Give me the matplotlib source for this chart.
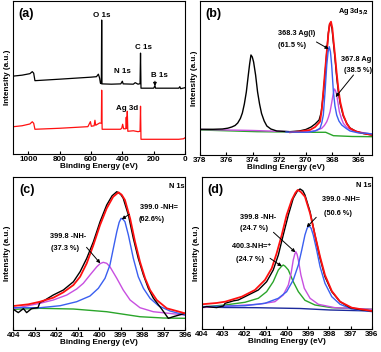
import matplotlib
matplotlib.use('Agg')
import matplotlib.pyplot as plt

plt.rcParams['font.family'] = ['Liberation Sans', 'DejaVu Sans']
plt.rcParams['font.weight'] = 'bold'
plt.rcParams['axes.labelweight'] = 'bold'
plt.rcParams['mathtext.default'] = 'bf'

BLUE = '#3a5ff0'
MAG = '#c84fe0'
GREEN = '#2aa52a'
NAVY = '#1c2a9c'
RED = '#ff1010'

# (a) survey spectra
a_ev_black = [1100, 1040, 990, 975, 966, 958, 800, 600, 565, 553, 545, 540, 534, 532, 530, 470, 410, 400, 395, 330,
              318, 300, 287, 284, 281, 230, 200, 192, 188, 100, 40, 33, 28, 0]
a_int_black = [78, 79, 80.5, 82.5, 81, 73.5, 75, 77, 77.5, 80, 76, 71, 70.5, 134, 70.3, 70, 70.3, 73, 70.3, 70,
               71.5, 70, 70.5, 101, 66, 66, 66, 68.5, 66, 66, 66, 67.5, 65.5, 66.5]
a_ev_red = [1100, 1040, 990, 975, 966, 958, 800, 620, 604, 598, 580, 575, 570, 545, 534, 532, 529, 412, 404, 398,
            392, 378, 375, 372, 368.5, 365, 330, 300, 287, 284, 281, 150, 40, 10, 0]
a_int_red = [27.5, 28.5, 30.3, 32.5, 31, 25, 26, 27.6, 32.6, 28, 28.5, 34, 29, 31.3, 31, 64, 25, 25, 26, 30,
             25.5, 25.5, 37, 26, 43, 23, 23.5, 22.6, 23, 48, 15, 15, 15, 15.5, 16.5]

# (b) Ag 3d
b_ev_black = [378, 377, 376.3, 375.9, 375.6, 375.35, 375.15, 374.95, 374.8, 374.65, 374.5, 374.35, 374.25, 374.15,
              374.05, 373.95, 373.8, 373.65, 373.5, 373.35, 373.15, 372.95, 372.65, 372.2, 371.2, 370.5, 370,
              369.6, 369.3, 369.0, 368.85, 368.7, 368.55, 368.42, 368.3, 368.2, 368.12, 368.02, 367.9, 367.8,
              367.67, 367.55, 367.4, 367.17, 366.9, 366.66, 366.2, 365.66, 365]
b_int_black = [25.7, 25.7, 26, 26.8, 28, 29.5, 32, 36.5, 42, 51, 63, 80, 91, 100, 98, 93, 80, 63, 51, 41.5, 34,
               29, 26, 24, 23.3, 24, 25.5, 28, 31, 35, 42, 58, 80, 103, 122, 131, 131.7, 126, 110, 97, 78, 64,
               51, 39, 31.5, 27, 23.5, 21.5, 20]
b_ev_red = [371.2, 370.5, 369.69, 369.3, 368.93, 368.8, 368.68, 368.55, 368.42, 368.3, 368.2, 368.1, 368.0, 367.9,
            367.8, 367.68, 367.55, 367.4, 367.17, 366.9, 366.66, 366.2, 365.66, 365]
b_int_red = [22.7, 23.5, 25, 28, 33.3, 45, 63.3, 84, 103.3, 121, 131, 133.3, 127, 113, 100, 83, 66.7, 53, 40, 31,
             26.7, 23.5, 21.7, 20]
b_ev_blue = [371.5, 369.9, 369.3, 368.93, 368.8, 368.68, 368.55, 368.42, 368.32, 368.23, 368.14, 368.05, 367.92,
             367.8, 367.67, 367.5, 367.29, 366.95, 366.66, 366, 365.4, 365]
b_int_blue = [23, 22.7, 24, 26.7, 32, 40, 63.3, 90, 103, 108.3, 103, 90, 63.3, 49, 40, 34, 30, 26.5, 24, 22,
              21.7, 21]
b_ev_mag = [378, 374, 371.2, 369.69, 369.2, 368.8, 368.6, 368.42, 368.3, 368.17, 368.05, 367.95, 367.84, 367.75,
            367.67, 367.57, 367.47, 367.3, 367.17, 366.9, 366.55, 366, 365.4, 365]
b_int_mag = [25.5, 24.5, 23.3, 23.3, 24.5, 26.7, 29.5, 33.3, 37.5, 43.3, 52, 60, 66, 64, 60, 52, 43.3, 36, 31.7,
             27.5, 25, 23, 21.7, 21]
b_ev_green = [378, 373.7, 369.5, 368.5, 367.92, 366.5, 365]
b_int_green = [25, 23.3, 22.7, 22.7, 19.3, 18.5, 18.3]

# (c) N 1s
c_ev_black = [404, 403.77, 403.53, 403.38, 403.15, 402.85, 402.76, 402.6, 402.14, 401.67, 401.2, 400.89, 400.58,
              400.27, 399.96, 399.65, 399.4, 399.18, 399.0, 398.88, 398.64, 398.41, 398.18, 397.94, 397.71,
              397.48, 397.09, 396.78, 396.55, 396]
c_int_black = [21, 17.7, 21.7, 17.7, 21.7, 22.7, 28, 29.3, 35.3, 40.3, 48.6, 58.6, 72, 88.6, 108.6, 125.3, 134.5,
               138.6, 136, 132, 115.3, 92, 72, 55.3, 42, 32.3, 21.3, 12, 13.6, 17]
c_ev_red = [404, 403.3, 402.76, 402.14, 401.67, 401.2, 400.89, 400.58, 400.27, 399.96, 399.65, 399.35, 399.1, 398.95,
            398.8, 398.56, 398.33, 398.1, 397.86, 397.63, 397.32, 396.85, 396]
c_int_red = [24.3, 26, 28.6, 32.6, 38, 45.3, 53.6, 67, 85.3, 105.3, 122, 133.5, 138, 135.5, 130.3, 112, 88.6,
             68.6, 52, 40.3, 30.3, 22, 17]
c_ev_blue = [404, 402.76, 401.82, 401.05, 400.43, 400.04, 399.73, 399.5, 399.34, 399.18, 399.07, 398.98, 398.89,
             398.8, 398.64, 398.41, 398.18, 397.94, 397.63, 397.24, 396.7, 396]
c_int_blue = [22.7, 22.6, 24.6, 28.6, 34.3, 42, 52, 65.3, 82, 98.6, 108, 112, 111, 108.6, 95.3, 72, 53.6, 42, 32,
              24.6, 19.3, 15.3]
c_ev_mag = [404, 402.76, 402.14, 401.51, 401.05, 400.74, 400.43, 400.11, 399.95, 399.81, 399.65, 399.5, 399.18,
            398.88, 398.56, 398.1, 397.48, 396]
c_int_mag = [21.7, 27, 30.3, 35.3, 41.3, 47, 55.3, 63.6, 66.8, 68, 67, 63.6, 52, 40.3, 30.3, 22.6, 18.6, 15.3]
c_ev_green = [404, 402.76, 401.2, 399.65, 398.1, 397, 396]
c_int_green = [21, 22, 21.3, 18.6, 13.6, 12.3, 12]

# (d) N 1s
d_ev_black = [404, 403.77, 403.3, 402.98, 402.9, 402.5, 402.28, 401.81, 401.34, 400.95, 400.64, 400.4, 400.17,
              399.93, 399.7, 399.5, 399.38, 399.25, 399.15, 398.91, 398.68, 398.44, 398.21, 397.89, 397.5,
              397.03, 396.48, 396]
d_int_black = [21.7, 22.7, 21.7, 23.3, 26, 28.5, 29.3, 34.3, 39.3, 47.6, 59.3, 74.3, 94.3, 114.3, 131, 138.5,
               140.3, 138.5, 134.3, 117.6, 94.3, 71, 52.6, 37.6, 27.6, 21.6, 19.3, 18.3]
d_ev_red = [404, 403.3, 402.9, 402.12, 401.5, 401.03, 400.71, 400.48, 400.24, 400.01, 399.77, 399.6, 399.49, 399.35,
            399.15, 398.91, 398.68, 398.44, 398.21, 397.89, 397.5, 396.95, 396]
d_int_red = [25, 26.3, 27.6, 32.6, 39.3, 49.3, 61, 76, 94.3, 114.3, 129.3, 136.5, 139.3, 137.5, 132.6, 116, 94.3,
             72.6, 54.3, 38.3, 27.6, 21.6, 18.3]
d_ev_blue = [404, 401.97, 401.03, 400.4, 400.01, 399.7, 399.46, 399.3, 399.15, 399.05, 398.96, 398.86, 398.76,
             398.6, 398.44, 398.21, 397.89, 397.5, 396.95, 396]
d_int_blue = [22.7, 23.6, 26, 31, 37.6, 49.3, 64.3, 79.3, 94.3, 101, 103.6, 101, 94.3, 79.3, 62.6, 46, 32.6, 25,
              20.3, 17.6]
d_ev_mag = [404, 401.34, 400.56, 400.17, 399.93, 399.8, 399.7, 399.63, 399.58, 399.52, 399.46, 399.34, 399.18,
            398.91, 398.52, 397.74, 396]
d_int_mag = [21.7, 25, 27.6, 34.3, 44.3, 56, 69.3, 75, 77.6, 75, 69.3, 54.3, 41, 31, 25, 21.6, 20]
d_ev_green = [404, 402.9, 401.97, 401.34, 400.95, 400.64, 400.4, 400.25, 400.17, 400.08, 399.93, 399.7, 399.46,
              399.15, 398.68, 397.89, 396]
d_int_green = [22.3, 24.3, 27, 31, 37.6, 47.6, 59.3, 63, 64.3, 63, 59.3, 47.6, 37.6, 29, 24.3, 21.6, 20]
d_ev_navy = [404, 402.9, 401.42, 399.38, 397.97, 396]
d_int_navy = [22.3, 21.8, 21.6, 20.8, 19.3, 18.3]

fig = plt.figure(figsize=(3.81, 3.52), dpi=100)
axa = fig.add_axes([0.0333, 0.5616, 0.4523, 0.4355])
axb = fig.add_axes([0.525, 0.5597, 0.4514, 0.4375])
axc = fig.add_axes([0.035, 0.0616, 0.4507, 0.4355])
axd = fig.add_axes([0.5294, 0.0645, 0.447, 0.4327])

lw = 1.0
axa.plot(a_ev_black, a_int_black, color='k', lw=0.9)
axa.plot(a_ev_red, a_int_red, color=RED, lw=0.9)
axa.set_xlim(1100, 0)
axa.set_ylim(0, 153)
axa.set_xticks([1000, 800, 600, 400, 200, 0])

axb.plot(b_ev_green, b_int_green, color=GREEN, lw=lw)
axb.plot(b_ev_mag, b_int_mag, color=MAG, lw=lw)
axb.plot(b_ev_black, b_int_black, color='k', lw=lw)
axb.plot(b_ev_red, b_int_red, color=RED, lw=1.3)
axb.plot(b_ev_blue, b_int_blue, color=BLUE, lw=lw)
axb.set_xlim(378, 365)
axb.set_ylim(0, 154)
axb.set_xticks([378, 376, 374, 372, 370, 368, 366])

axc.plot(c_ev_green, c_int_green, color=GREEN, lw=lw)
axc.plot(c_ev_mag, c_int_mag, color=MAG, lw=lw)
axc.plot(c_ev_blue, c_int_blue, color=BLUE, lw=lw)
axc.plot(c_ev_black, c_int_black, color='k', lw=lw)
axc.plot(c_ev_red, c_int_red, color=RED, lw=1.3)
axc.set_xlim(404, 396)
axc.set_ylim(0, 153.3)
axc.set_xticks(range(404, 395, -1))

axd.plot(d_ev_navy, d_int_navy, color=NAVY, lw=lw)
axd.plot(d_ev_green, d_int_green, color=GREEN, lw=lw)
axd.plot(d_ev_mag, d_int_mag, color=MAG, lw=lw)
axd.plot(d_ev_blue, d_int_blue, color=BLUE, lw=lw)
axd.plot(d_ev_black, d_int_black, color='k', lw=lw)
axd.plot(d_ev_red, d_int_red, color=RED, lw=1.3)
axd.set_xlim(404, 396)
axd.set_ylim(0, 152.3)
axd.set_xticks(range(404, 395, -1))

for ax, lab in zip([axa, axb, axc, axd], ['(a)', '(b)', '(c)', '(d)']):
    ax.set_yticks([])
    ax.tick_params(axis='x', direction='in', length=2, width=0.8, labelsize=5.8, pad=1.5)
    for s in ax.spines.values():
        s.set_linewidth(0.8)
    ax.set_xlabel('Binding Energy (eV)', fontsize=5.9, labelpad=0)
    ax.set_ylabel('Intensity (a.u.)', fontsize=5.9, labelpad=1.5)
    ax.text(0.08, 0.915, lab, transform=ax.transAxes, fontsize=9, ha='center', va='center')

fs = 5.3
arr = dict(arrowstyle='-|>', color='k', lw=0.7, mutation_scale=5, shrinkA=0, shrinkB=0)

axa.text(532, 139, 'O 1s', fontsize=fs + 0.4, ha='center', va='center')
axa.text(262, 106.6, 'C 1s', fontsize=fs + 0.4, ha='center', va='center')
axa.text(398, 82.6, 'N 1s', fontsize=fs + 0.4, ha='center', va='center')
axa.text(164, 78.3, 'B 1s', fontsize=fs + 0.4, ha='center', va='center')
axa.annotate('', xy=(192, 68), xytext=(192, 73), arrowprops=arr)
axa.text(372, 45.5, 'Ag 3d', fontsize=fs + 0.4, ha='center', va='center')

axb.text(0.89, 0.93, 'Ag 3d$_{5/2}$', transform=axb.transAxes, fontsize=fs, ha='center', va='center')
axb.text(0.56, 0.79, '368.3 Ag(I)', transform=axb.transAxes, fontsize=fs, ha='center', va='center')
axb.text(0.533, 0.714, '(61.5 %)', transform=axb.transAxes, fontsize=fs, ha='center', va='center')
axb.annotate('', xy=(368.27, 106), xytext=(369.2, 113), arrowprops=arr)
axb.text(0.905, 0.617, '367.8 Ag', transform=axb.transAxes, fontsize=fs, ha='center', va='center')
axb.text(0.92, 0.55, '(38.5 %)', transform=axb.transAxes, fontsize=fs, ha='center', va='center')
axb.annotate('', xy=(367.75, 58), xytext=(366.4, 80), arrowprops=arr)

axc.text(0.95, 0.94, 'N 1s', transform=axc.transAxes, fontsize=fs, ha='center', va='center')
axc.text(0.85, 0.80, '399.0 -NH=', transform=axc.transAxes, fontsize=fs, ha='center', va='center')
axc.text(0.806, 0.724, '(62.6%)', transform=axc.transAxes, fontsize=fs, ha='center', va='center')
axc.annotate('', xy=(398.95, 111), xytext=(398.6, 116), arrowprops=arr)
axc.text(0.32, 0.61, '399.8 -NH-', transform=axc.transAxes, fontsize=fs, ha='center', va='center')
axc.text(0.30, 0.533, '(37.3 %)', transform=axc.transAxes, fontsize=fs, ha='center', va='center')
axc.annotate('', xy=(399.95, 67), xytext=(400.59, 83), arrowprops=arr)

axd.text(0.95, 0.945, 'N 1s', transform=axd.transAxes, fontsize=fs, ha='center', va='center')
axd.text(0.82, 0.85, '399.0 -NH=', transform=axd.transAxes, fontsize=fs, ha='center', va='center')
axd.text(0.80, 0.76, '(50.6 %)', transform=axd.transAxes, fontsize=fs, ha='center', va='center')
axd.annotate('', xy=(399.07, 102), xytext=(398.62, 112), arrowprops=arr)
axd.text(0.33, 0.733, '399.8 -NH-', transform=axd.transAxes, fontsize=fs, ha='center', va='center')
axd.text(0.31, 0.66, '(24.7 %)', transform=axd.transAxes, fontsize=fs, ha='center', va='center')
axd.annotate('', xy=(399.6, 77), xytext=(400.63, 97), arrowprops=arr)
axd.text(0.293, 0.547, '400.3-NH=$^{+}$', transform=axd.transAxes, fontsize=fs, ha='center', va='center')
axd.text(0.283, 0.46, '(24.7 %)', transform=axd.transAxes, fontsize=fs, ha='center', va='center')
axd.annotate('', xy=(400.24, 63), xytext=(400.79, 71), arrowprops=arr)

fig.savefig('out.png', dpi=100)
